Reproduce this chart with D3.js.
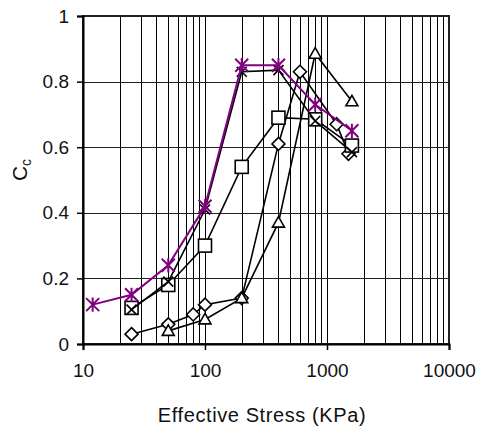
<!DOCTYPE html>
<html>
<head>
<meta charset="utf-8">
<script src="https://cdn.jsdelivr.net/npm/d3@7"></script>
<style>
  body { margin: 0; background: #fff; }
  text { font-family: "Liberation Sans", Arial, sans-serif; fill: #111; }
</style>
</head>
<body>
<svg id="chart" width="481" height="428"></svg>
<script>
// series: effective stress (KPa) and Cc
const stressDiamond = [25, 50, 80, 100, 200, 400, 600, 1200, 1500];
const ccDiamond = [0.03, 0.06, 0.09, 0.12, 0.14, 0.61, 0.83, 0.67, 0.58];

const stressSquare = [25, 50, 100, 200, 400, 800, 1600];
const ccSquare = [0.11, 0.18, 0.30, 0.54, 0.69, 0.685, 0.605];

const stressTriangle = [50, 100, 200, 400, 800, 1600];
const ccTriangle = [0.04, 0.075, 0.14, 0.37, 0.885, 0.74];

const stressCross = [25, 50, 100, 200, 400, 800, 1600];
const ccCross = [0.105, 0.19, 0.41, 0.83, 0.835, 0.68, 0.585];

const stressStar = [12, 25, 50, 100, 200, 400, 800, 1600];
const ccStar = [0.12, 0.15, 0.24, 0.42, 0.85, 0.85, 0.73, 0.65];

const xTickLabels = [10, 100, 1000, 10000];
const yTickLabels = [0, 0.2, 0.4, 0.6, 0.8, 1];

const margin = { top: 16, right: 32, bottom: 84, left: 83 };
const width = 481;
const height = 428;
const w = width - margin.left - margin.right;
const h = height - margin.top - margin.bottom;

const svg = d3.select("#chart")
  .append("g")
  .attr("transform", "translate(" + margin.left + "," + margin.top + ")");

const x = d3.scaleLog().domain([10, 10000]).range([0, w]);
const y = d3.scaleLinear().domain([0, 1]).range([h, 0]);

// vertical log grid (every 1..9 per decade)
svg.selectAll(".vgrid")
  .data(x.ticks())
  .join("line")
  .attr("class", "vgrid")
  .attr("x1", d => Math.round(x(d)) + 0.5)
  .attr("x2", d => Math.round(x(d)) + 0.5)
  .attr("y1", 0)
  .attr("y2", h)
  .style("stroke", "#000")
  .style("stroke-width", 1);

// horizontal grid
svg.selectAll(".hgrid")
  .data(yTickLabels)
  .join("line")
  .attr("class", "hgrid")
  .attr("x1", 0)
  .attr("x2", w)
  .attr("y1", d => Math.round(y(d)) + 0.5)
  .attr("y2", d => Math.round(y(d)) + 0.5)
  .style("stroke", "#222")
  .style("stroke-width", 1);

// frame
svg.append("rect")
  .attr("x", 0).attr("y", 0)
  .attr("width", w).attr("height", h)
  .style("fill", "none")
  .style("stroke", "#222")
  .style("stroke-width", 2);

// axes
const xAxis = svg.append("g")
  .attr("transform", "translate(0," + h + ")")
  .call(d3.axisBottom(x).tickValues(xTickLabels).tickSize(6).tickPadding(14)
    .tickFormat(d3.format("d")));
const yAxis = svg.append("g")
  .call(d3.axisLeft(y).tickValues(yTickLabels).tickSize(6).tickPadding(8)
    .tickFormat(d => d === 0 || d === 1 ? d3.format("d")(d) : d3.format(".1f")(d)));

[xAxis, yAxis].forEach(a => {
  a.select(".domain").style("stroke", "#000").style("stroke-width", 2);
  a.selectAll(".tick line").style("stroke", "#000").style("stroke-width", 1.5);
  a.selectAll(".tick text").style("font-size", "19px").attr("fill", "#111");
});

// axis titles
svg.append("text")
  .attr("x", w / 2 - 4)
  .attr("y", h + 78)
  .attr("text-anchor", "middle")
  .style("font-size", "20px")
  .style("letter-spacing", "0.6px")
  .text("Effective Stress (KPa)");

const yTitle = svg.append("text")
  .attr("transform", "translate(" + (-56) + "," + (h / 2 - 10) + ") rotate(-90)")
  .attr("text-anchor", "middle")
  .style("font-size", "21px");
yTitle.append("tspan").text("C");
yTitle.append("tspan").attr("dy", 4).style("font-size", "14px").text("c");

// marker shapes
const markers = {
  diamond: (g, s) => g.append("path").attr("d", `M0,${-s}L${s},0L0,${s}L${-s},0Z`),
  square: (g, s) => g.append("rect").attr("x", -s).attr("y", -s).attr("width", 2 * s).attr("height", 2 * s),
  triangle: (g, s) => g.append("path").attr("d", `M0,${-s}L${s},${s * 0.75}L${-s},${s * 0.75}Z`),
  cross: (g, s) => g.append("path").attr("d", `M${-s},${-s}L${s},${s}M${-s},${s}L${s},${-s}`),
  star: (g, s) => g.append("path")
    .attr("d", `M${-s},${-s}L${s},${s}M${-s},${s}L${s},${-s}M0,${-s * 1.1}L0,${s * 1.1}`)
};

const series = [
  { xs: stressDiamond, ys: ccDiamond, shape: "diamond", size: 6.5, color: "#000", lw: 1.6 },
  { xs: stressSquare, ys: ccSquare, shape: "square", size: 6.5, color: "#000", lw: 1.6 },
  { xs: stressTriangle, ys: ccTriangle, shape: "triangle", size: 6, color: "#000", lw: 1.6 },
  { xs: stressCross, ys: ccCross, shape: "cross", size: 5, color: "#000", lw: 1.6 },
  { xs: stressStar, ys: ccStar, shape: "star", size: 6.5, color: "#800080", lw: 2 }
];

const line = d3.line()
  .x(d => x(d[0]))
  .y(d => y(d[1]));

series.forEach(s => {
  const pts = s.xs.map((v, i) => [v, s.ys[i]]);
  svg.append("path")
    .attr("d", line(pts))
    .style("fill", "none")
    .style("stroke", s.color)
    .style("stroke-width", s.lw);

  pts.forEach(p => {
    const g = svg.append("g")
      .attr("transform", "translate(" + x(p[0]) + "," + y(p[1]) + ")");
    markers[s.shape](g, s.size)
      .style("fill", s.shape === "cross" || s.shape === "star" ? "none" : "#fff")
      .style("stroke", s.color)
      .style("stroke-width", s.shape === "star" ? 2 : 1.6);
  });
});
</script>
</body>
</html>
